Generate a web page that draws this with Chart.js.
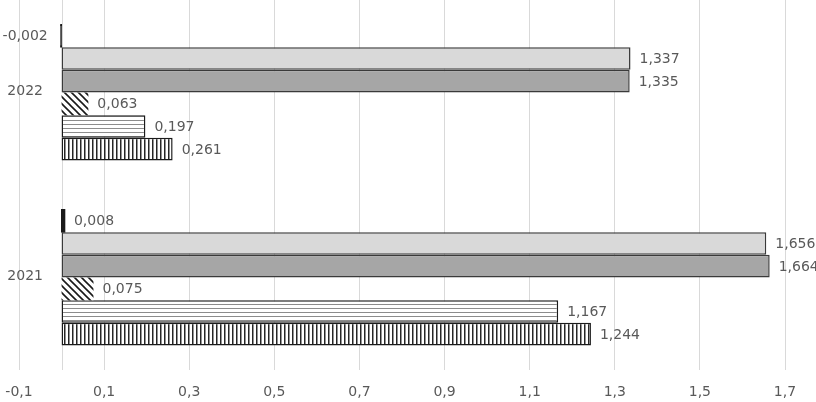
<!DOCTYPE html>
<html>
<head>
<meta charset="utf-8">
<script src="https://cdn.jsdelivr.net/npm/chart.js@4.4.1/dist/chart.umd.min.js"></script>
<style>
  html, body { margin: 0; padding: 0; background: #ffffff; }
  #wrap { width: 816px; height: 402px; position: relative; }
</style>
</head>
<body>
<div id="wrap"><canvas id="barChart"></canvas></div>
<script>
// data
const categories = ['2022', '2021'];
const seriesNames = ['Series 1', 'Series 2', 'Series 3', 'Series 4', 'Series 5', 'Series 6'];
const thinValues = [-0.002, 0.008];
const lightGrayValues = [1.337, 1.656];
const darkGrayValues = [1.335, 1.664];
const diagonalValues = [0.063, 0.075];
const horizontalValues = [0.197, 1.167];
const verticalValues = [0.261, 1.244];
const xTicks = [-0.1, 0.1, 0.3, 0.5, 0.7, 0.9, 1.1, 1.3, 1.5, 1.7];

const textColor = '#595959';
const gridColor = '#d9d9d9';

function makePattern(w, h, drawFn) {
    const c = document.createElement('canvas');
    c.width = w;
    c.height = h;
    const g = c.getContext('2d');
    g.fillStyle = '#ffffff';
    g.fillRect(0, 0, w, h);
    drawFn(g);
    return document.getElementById('barChart').getContext('2d').createPattern(c, 'repeat');
}

const diagonalPattern = makePattern(7, 7, g => {
    g.strokeStyle = '#1a1a1a';
    g.lineWidth = 1.6;
    g.beginPath();
    g.moveTo(-1, -1); g.lineTo(8, 8);
    g.moveTo(-1, 6); g.lineTo(1, 8);
    g.moveTo(6, -1); g.lineTo(8, 1);
    g.stroke();
});

const horizontalPattern = makePattern(4, 4, g => {
    g.fillStyle = '#8c8c8c';
    g.fillRect(0, 0, 4, 1);
});

const verticalPattern = makePattern(4, 4, g => {
    g.fillStyle = '#262626';
    g.fillRect(0, 0, 1.5, 4);
});

function fmt(v, digits) {
    return v.toFixed(digits).replace('.', ',');
}

const extrasPlugin = {
    id: 'extras',
    beforeDatasetsDraw(chart) {
        const ctx = chart.ctx;
        const area = chart.chartArea;
        const x0 = chart.scales.x.getPixelForValue(0);
        ctx.save();
        ctx.strokeStyle = gridColor;
        ctx.lineWidth = 1;
        ctx.beginPath();
        ctx.moveTo(Math.round(x0) + 0.5, area.top);
        ctx.lineTo(Math.round(x0) + 0.5, area.bottom);
        ctx.stroke();
        ctx.restore();
    },
    afterDatasetsDraw(chart) {
        const ctx = chart.ctx;
        ctx.save();
        ctx.font = '14px "DejaVu Sans"';
        ctx.fillStyle = textColor;
        ctx.textBaseline = 'middle';

        // value labels
        chart.data.datasets.forEach((ds, di) => {
            const meta = chart.getDatasetMeta(di);
            meta.data.forEach((bar, i) => {
                const v = ds.data[i];
                if (v < 0) {
                    ctx.textAlign = 'right';
                    ctx.fillText(fmt(v, 3), bar.x - 13, bar.y + 1);
                } else {
                    ctx.textAlign = 'left';
                    ctx.fillText(fmt(v, 3), bar.x + 9, bar.y + 1);
                }
            });
        });

        // category labels
        const y = chart.scales.y;
        ctx.textAlign = 'right';
        categories.forEach((c, i) => {
            ctx.fillText(c, 43, y.getPixelForValue(i) - 1);
        });
        ctx.restore();
    }
};

Chart.defaults.font.family = '"DejaVu Sans", sans-serif';
Chart.defaults.font.size = 14;
Chart.defaults.color = textColor;

const ctx = document.getElementById('barChart').getContext('2d');
new Chart(ctx, {
    type: 'bar',
    data: {
        labels: categories,
        datasets: [
            {
                label: seriesNames[0],
                data: thinValues,
                backgroundColor: '#1a1a1a',
                borderColor: '#1a1a1a',
                borderWidth: 1,
                borderSkipped: false,
                inflateAmount: 0.6
            },
            {
                label: seriesNames[1],
                data: lightGrayValues,
                backgroundColor: '#d9d9d9',
                borderColor: '#3a3a3a',
                borderWidth: 1.5,
                borderSkipped: false
            },
            {
                label: seriesNames[2],
                data: darkGrayValues,
                backgroundColor: '#a6a6a6',
                borderColor: '#3a3a3a',
                borderWidth: 1.5,
                borderSkipped: false
            },
            {
                label: seriesNames[3],
                data: diagonalValues,
                backgroundColor: diagonalPattern,
                borderWidth: 0
            },
            {
                label: seriesNames[4],
                data: horizontalValues,
                backgroundColor: horizontalPattern,
                borderColor: '#1a1a1a',
                borderWidth: 1.5,
                borderSkipped: false
            },
            {
                label: seriesNames[5],
                data: verticalValues,
                backgroundColor: verticalPattern,
                borderColor: '#1a1a1a',
                borderWidth: 1.5,
                borderSkipped: false
            }
        ]
    },
    options: {
        indexAxis: 'y',
        responsive: true,
        maintainAspectRatio: false,
        animation: false,
        categoryPercentage: 0.735,
        barPercentage: 1,
        layout: {
            padding: { left: 19, right: 31, top: 0, bottom: 0 }
        },
        plugins: {
            legend: { display: false },
            tooltip: { enabled: false }
        },
        scales: {
            x: {
                type: 'linear',
                min: -0.1,
                max: 1.7,
                afterBuildTicks: axis => {
                    axis.ticks = xTicks.map(v => ({ value: v }));
                },
                afterFit: axis => {
                    axis.height = 32;
                    axis.paddingLeft = 0;
                    axis.paddingRight = 0;
                },
                grid: {
                    color: gridColor,
                    lineWidth: 1,
                    drawTicks: false
                },
                border: { display: false },
                ticks: {
                    padding: 14,
                    maxRotation: 0,
                    minRotation: 0,
                    autoSkip: false,
                    callback: v => fmt(v, 1)
                }
            },
            y: {
                display: false
            }
        }
    },
    plugins: [extrasPlugin]
});
</script>
</body>
</html>
